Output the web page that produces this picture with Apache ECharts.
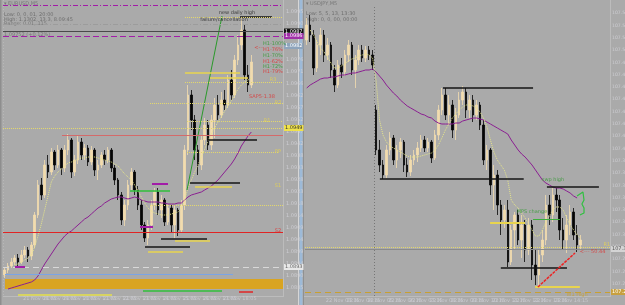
<!DOCTYPE html>
<html><head><meta charset="utf-8">
<script src="https://cdn.jsdelivr.net/npm/echarts@6/dist/echarts.min.js"></script>
<style>html,body{margin:0;padding:0;background:#aaaaaa}#c{width:625px;height:305px}</style>
</head><body><div id="c"></div>
<script>
// ---------- DATA ----------
// EURUSD M5 candles [open, close, low, high]
const leftOHLC = [
[1.08900,1.08920,1.08888,1.08928],[1.08920,1.08936,1.08908,1.08948],[1.08936,1.08952,1.08928,1.08968],
[1.08952,1.08968,1.08940,1.08980],[1.08968,1.08952,1.08936,1.08984],[1.08952,1.08980,1.08944,1.09000],
[1.08980,1.09000,1.08968,1.09016],[1.09000,1.08976,1.08952,1.09012],[1.08976,1.09020,1.08960,1.09032],
[1.09020,1.09140,1.09008,1.09152],[1.09140,1.09260,1.09128,1.09280],[1.09260,1.09220,1.09200,1.09288],
[1.09220,1.09340,1.09208,1.09360],[1.09340,1.09312,1.09288,1.09380],[1.09312,1.09392,1.09300,1.09408],
[1.09392,1.09340,1.09320,1.09400],[1.09340,1.09400,1.09328,1.09420],[1.09400,1.09328,1.09300,1.09408],
[1.09328,1.09400,1.09312,1.09420],[1.09400,1.09440,1.09380,1.09464],[1.09440,1.09312,1.09288,1.09448],
[1.09312,1.09360,1.09296,1.09380],[1.09360,1.09432,1.09344,1.09456],[1.09432,1.09380,1.09360,1.09448],
[1.09380,1.09408,1.09360,1.09424],[1.09408,1.09352,1.09336,1.09420],[1.09352,1.09400,1.09340,1.09416],
[1.09400,1.09320,1.09296,1.09408],[1.09320,1.09340,1.09280,1.09360],[1.09340,1.09380,1.09328,1.09392],
[1.09380,1.09360,1.09340,1.09400],[1.09360,1.09400,1.09348,1.09412],[1.09400,1.09328,1.09312,1.09408],
[1.09328,1.09280,1.09260,1.09340],[1.09280,1.09220,1.09200,1.09288],[1.09220,1.09120,1.09100,1.09232],
[1.09120,1.09180,1.09096,1.09200],[1.09180,1.09260,1.09160,1.09280],[1.09260,1.09312,1.09240,1.09328],
[1.09312,1.09240,1.09220,1.09320],[1.09240,1.09180,1.09160,1.09256],[1.09180,1.09100,1.09080,1.09200],
[1.09100,1.09048,1.09032,1.09112],[1.09048,1.09100,1.09020,1.09120],[1.09100,1.09180,1.09080,1.09200],
[1.09180,1.09232,1.09160,1.09248],[1.09232,1.09160,1.09140,1.09248],[1.09160,1.09200,1.09128,1.09220],
[1.09200,1.09112,1.09096,1.09208],[1.09112,1.09168,1.09100,1.09184],[1.09168,1.09100,1.09072,1.09180],
[1.09100,1.09160,1.09048,1.09180],[1.09160,1.09080,1.09056,1.09168],[1.09080,1.09180,1.09068,1.09200],
[1.09180,1.09400,1.09160,1.09420],[1.09400,1.09620,1.09380,1.09660],[1.09620,1.09520,1.09480,1.09640],
[1.09520,1.09400,1.09360,1.09540],[1.09400,1.09340,1.09300,1.09420],[1.09340,1.09440,1.09320,1.09460],
[1.09440,1.09500,1.09420,1.09528],[1.09500,1.09420,1.09400,1.09520],[1.09420,1.09520,1.09400,1.09540],
[1.09520,1.09580,1.09448,1.09608],[1.09580,1.09540,1.09520,1.09620],[1.09540,1.09600,1.09528,1.09632],
[1.09600,1.09580,1.09560,1.09640],[1.09580,1.09680,1.09568,1.09700],[1.09680,1.09620,1.09600,1.09720],
[1.09620,1.09760,1.09608,1.09780],[1.09760,1.09820,1.09740,1.09860],[1.09820,1.09880,1.09800,1.09928],
[1.09880,1.09700,1.09680,1.09900],[1.09700,1.09660,1.09632,1.09740],[1.09660,1.09752,1.09648,1.09780]
];
const leftMA = [null,1.08844,1.08848,1.08852,1.08856,1.08860,1.08864,1.08868,1.08872,1.08880,
1.08896,1.08920,1.08944,1.08964,1.08984,1.09004,1.09024,1.09040,1.09056,1.09068,
1.09076,1.09088,1.09100,1.09112,1.09124,1.09132,1.09144,1.09156,1.09168,1.09176,
1.09188,1.09196,1.09204,1.09208,1.09212,1.09212,1.09208,1.09204,1.09208,1.09212,
1.09208,1.09200,1.09196,1.09192,1.09192,1.09192,1.09192,1.09188,1.09188,1.09184,
1.09184,1.09184,1.09188,1.09188,1.09200,1.09212,1.09220,1.09224,1.09228,1.09232,
1.09240,1.09248,1.09256,1.09268,1.09280,1.09296,1.09312,1.09328,1.09344,1.09364,
1.09388,1.09416,1.09436,1.09456,1.09472];
const leftFast = [null,null,null,1.08940,1.08944,1.08952,1.08960,1.08968,1.08980,1.09012,
1.09056,1.09104,1.09160,1.09216,1.09272,1.09296,1.09312,1.09324,1.09336,1.09348,
1.09352,1.09356,1.09364,1.09368,1.09368,1.09372,1.09372,1.09372,1.09368,1.09364,
1.09360,1.09356,1.09352,1.09344,1.09336,1.09320,1.09304,1.09292,1.09280,1.09260,
1.09236,1.09212,1.09188,1.09168,1.09156,1.09148,1.09144,1.09140,1.09140,1.09140,
1.09144,1.09148,1.09152,1.09164,1.09200,1.09248,1.09280,1.09312,1.09340,1.09372,
1.09404,1.09436,1.09464,1.09488,1.09512,1.09532,1.09556,1.09576,1.09596,1.09620,
1.09644,1.09660,1.09672,1.09680,1.09688];

// USDJPY M5 candles [open, close, low, high]
const rightOHLC = [
[107.512,107.527,107.507,107.534],[107.527,107.517,107.510,107.537],[107.517,107.484,107.477,107.522],
[107.484,107.507,107.480,107.512],[107.507,107.517,107.497,107.524],[107.517,107.497,107.490,107.522],
[107.497,107.507,107.492,107.514],[107.507,107.482,107.474,107.510],[107.482,107.467,107.460,107.487],
[107.467,107.487,107.464,107.492],[107.487,107.480,107.474,107.494],[107.480,107.497,107.476,107.502],
[107.497,107.507,107.490,107.512],[107.507,107.482,107.477,107.510],[107.482,107.492,107.464,107.497],
[107.492,107.502,107.487,107.507],[107.502,107.494,107.490,107.507],[107.494,107.502,107.490,107.506],
[107.502,107.497,107.492,107.506],[107.497,107.487,107.482,107.502],[107.442,107.402,107.397,107.447],
[107.402,107.387,107.380,107.412],[107.387,107.377,107.373,107.392],[107.377,107.402,107.374,107.407],
[107.402,107.414,107.397,107.420],[107.414,107.392,107.387,107.417],[107.392,107.402,107.384,107.407],
[107.402,107.410,107.394,107.414],[107.410,107.387,107.380,107.412],[107.387,107.380,107.375,107.394],
[107.380,107.392,107.376,107.397],[107.392,107.397,107.387,107.402],[107.397,107.404,107.390,107.410],
[107.404,107.412,107.400,107.417],[107.412,107.404,107.400,107.416],[107.404,107.410,107.400,107.414],
[107.410,107.394,107.389,107.412],[107.394,107.417,107.392,107.422],[107.417,107.442,107.412,107.447],
[107.442,107.457,107.437,107.464],[107.457,107.437,107.432,107.464],[107.437,107.447,107.427,107.457],
[107.447,107.422,107.414,107.452],[107.422,107.437,107.412,107.444],[107.437,107.452,107.434,107.460],
[107.452,107.460,107.447,107.466],[107.460,107.442,107.434,107.464],[107.442,107.452,107.434,107.457],
[107.452,107.437,107.430,107.457],[107.437,107.447,107.432,107.452],[107.447,107.427,107.422,107.450],
[107.427,107.392,107.387,107.432],[107.392,107.402,107.382,107.407],[107.402,107.367,107.357,107.404],
[107.367,107.377,107.342,107.387],[107.377,107.347,107.337,107.382],[107.347,107.332,107.317,107.352],
[107.332,107.342,107.324,107.347],[107.342,107.290,107.285,107.352],[107.290,107.322,107.287,107.327],
[107.322,107.337,107.302,107.340],[107.337,107.312,107.307,107.342],[107.312,107.327,107.294,107.337],
[107.327,107.302,107.290,107.332],[107.302,107.327,107.297,107.334],[107.327,107.287,107.272,107.332],
[107.287,107.277,107.267,107.302],[107.277,107.297,107.265,107.302],[107.297,107.312,107.290,107.322],
[107.312,107.347,107.307,107.357],[107.347,107.337,107.327,107.357],[107.337,107.357,107.330,107.364],
[107.357,107.352,107.340,107.364],[107.352,107.322,107.312,107.357],[107.322,107.312,107.302,107.334],
[107.312,107.327,107.299,107.337],[107.327,107.340,107.317,107.347],[107.340,107.317,107.312,107.344],
[107.317,107.307,107.300,107.327],[107.307,107.312,107.302,107.317]
];
const rightMA = [107.464,107.467,107.469,107.471,107.473,107.474,107.474,107.475,107.475,107.476,
107.477,107.477,107.478,107.479,107.479,107.480,107.481,107.482,107.482,107.483,
107.480,107.476,107.472,107.467,107.463,107.459,107.456,107.452,107.449,107.446,
107.444,107.442,107.440,107.438,107.437,107.435,107.434,107.431,107.429,107.428,
107.428,107.428,107.428,107.429,107.429,107.431,107.432,107.433,107.434,107.434,
107.433,107.432,107.430,107.428,107.426,107.424,107.422,107.420,107.418,107.412,
107.407,107.402,107.398,107.395,107.391,107.387,107.382,107.377,107.372,107.369,
107.367,107.365,107.364,107.364,107.363,107.361,107.359,107.356,107.354,null];
const rightFast = [null,107.522,107.517,107.510,107.504,107.500,107.495,107.489,107.484,107.484,
107.486,107.488,107.491,107.493,107.494,107.496,107.497,107.498,107.497,107.494,
107.472,107.432,107.417,107.410,107.406,107.404,107.402,107.400,107.398,107.396,
107.395,107.395,107.395,107.396,107.397,107.398,107.399,107.402,107.407,107.414,
107.422,107.428,107.434,107.438,107.442,107.445,107.447,107.447,107.446,107.444,
107.440,107.434,107.425,107.412,107.400,107.392,107.387,107.382,107.372,107.352,
107.347,107.344,107.339,107.334,107.328,107.322,107.316,107.316,107.322,107.330,
107.336,107.342,107.345,107.345,107.342,107.334,107.327,107.322,107.317,107.314];

// x tick labels (one every 6 bars)
const leftTimeLabels = ['21 Nov 2023','21 Nov 08:05','21 Nov 09:05','21 Nov 10:05','21 Nov 11:05','21 Nov 12:05',
  '21 Nov 13:05','21 Nov 14:05','21 Nov 15:05','21 Nov 16:05','21 Nov 17:05','21 Nov 18:05'];
const rightTimeLabels = ['22 Nov 2023','22 Nov 03:15','22 Nov 04:15','22 Nov 05:15','22 Nov 06:15','22 Nov 07:15',
  '22 Nov 08:15','22 Nov 09:15','22 Nov 10:15','22 Nov 11:15','22 Nov 12:15','22 Nov 13:15','22 Nov 14:15'];

// horizontal price levels (full width)
const leftLevels = [1.09978, 1.09904, 1.09874, 1.09856, 1.09816, 1.09488, 1.09072, 1.08932];
// partial segments [fromBar, toBar, price]
const leftSegs = [
 [70.6,80.2,1.09932],[54.1,83.5,1.09932],[54.1,70.6,1.09708],[54.1,83.5,1.09672],[61.6,73.0,1.09688],
 [17.2,83.5,1.09460],[43.6,83.5,1.09588],[54.7,83.5,1.09516],[60.7,75.7,1.09440],[54.7,82.0,1.09392],
 [55.6,70.6,1.09268],[57.1,68.2,1.09252],[44.2,49.0,1.09264],[37.6,49.6,1.09236],[43.6,83.5,1.09180],
 [46.9,60.7,1.09044],[51.1,61.6,1.09036],[42.1,55.6,1.09012],[43.0,53.5,1.08992],[40.6,44.5,1.09092],
 [3.1,6.1,1.08932],[0.1,68.5,1.08904],[41.5,65.2,1.08836],[70.3,74.5,1.08832],[4.0,32.2,1.08820]
];
const leftTrend = [[54.7,1.09240],[65.2,1.09936]];
const leftZone = [[0.1,1.08884],[83.5,1.08844]];
const leftNotes = [
 [69.7,1.09948,'new daily high'],[65.8,1.09920,'failure/cancellation'],
 [77.5,1.09824,'H1-100%'],[77.5,1.09802,'H1-76%'],[77.5,1.09776,'H1-70%'],
 [77.5,1.09754,'H1-62%'],[77.5,1.09732,'H1-72%'],[77.5,1.09712,'H1-79%'],
 [76.3,1.09808,'<---'],[77.2,1.09612,'SAP5-1.38'],
 [80.5,1.09680,'R3'],[82.0,1.09588,'R2'],[78.7,1.09516,'R1'],[82.0,1.09392,'PP'],[82.0,1.09256,'S1'],[82.0,1.09076,'S2']
];

const rightLevels = [107.3045, 107.303, 107.260];
const rightSegs = [
 [39.3,65.3,107.464],[21.1,62.6,107.373],[69.3,84.3,107.365],[65.3,73.1,107.333],
 [52.9,63.0,107.329],[56.0,75.1,107.284],[65.9,78.8,107.265]
];
const rightTrend = [[66.7,107.265],[77.4,107.299]];
const rightSession = 19.5;
const rightBracket = [[77.98,107.356],[79.7,107.360],[80.0,107.352],[79.4,107.348],[80.0,107.344],[80.0,107.339],[78.8,107.337]];
const rightNotes = [
 [71.05,107.372,'swp high'],[65.0,107.340,'MPS change'],[78.8,107.300,'<--- 50.44'],
 [78.0,107.2575,'W1 High'],[86.6,107.307,'R1']
];

// ---------- STYLE / OPTIONS ----------
const FF = 'DejaVu Sans';
const Y='#e8d44e', YD='#e4d86c', BK='#141414', MG='#a21ca8', GR='#2fbf3a', RD='#e02424', LB='#7aa4e6';
const leftSegStyle = [
 [BK,1.5,'solid'],[YD,1,'dotted'],[Y,1.5,'solid'],[YD,1,'dotted'],[Y,1.5,'solid'],
 ['#d46a6a',1,'solid'],[YD,1,'dotted'],[YD,1,'dotted'],[BK,1.5,'solid'],[YD,1,'dotted'],
 [BK,1.5,'solid'],[Y,1.5,'solid'],[MG,2,'solid'],[GR,1.5,'solid'],[YD,1,'dotted'],
 ['#3c3c3c',2,'solid'],[Y,1.5,'solid'],[BK,1.5,'solid'],[Y,1.5,'solid'],[MG,2,'solid'],
 [MG,2,'solid'],[LB,1,'solid'],[GR,1.5,'solid'],[RD,1.5,'solid'],['#e6e04a',1.5,'solid']
];
const leftLevelStyle = [
 [MG,1,[5,2,1,2],null],['#9c9c9c',1,[5,2,1,2],null],['#4a4a4a',1,'solid',['#111','#fff']],
 [MG,1,[6,3],['#a030a8','#fff']],['rgba(0,0,0,0)',1,'solid',['#8ea4bc','#fff']],
 [YD,1,'dotted',['#f0e24a','#333']],[RD,1.2,'solid',null],['#d8d8d8',1,[6,4],['#e8e8e8','#666']]
];
const leftNoteColor = ['#1a1a1a','#1a1a1a','#2e9a2e','#e03030','#2e9a2e','#e03030','#2e9a2e','#e03030',
 '#e03030','#e03030',Y,Y,Y,Y,Y,'#e03030'];
const leftNoteCenter = [1,1,0,0,0,0,0,0,1,1,1,1,1,1,1,1];
const rightSegStyle = [[BK,1.5,'solid'],[BK,1.5,'solid'],[BK,1.5,'solid'],['#3cb03c',1,'solid'],
 [Y,2,'solid'],[BK,1.5,'solid'],[Y,2,'solid']];
const rightLevelStyle = [[YD,1,'dotted',null],['#8a8a8a',1,'solid',['#d4d4d4','#555']],['#c9a030',1.2,[6,4],['#c8a040','#fff']]];
const rightNoteColor = ['#2e9a2e','#2e9a2e','#e03030','#c9a030',Y];
const rightNoteCenter = [1,1,0,1,1];

function levelItems(levels, styles, digits){
  return levels.map((p,i)=>{
    const s = styles[i];
    const it = {yAxis:p, lineStyle:{color:s[0], width:s[1], type:s[2]}};
    if (s[3]) it.label = {show:true, position:'end', distance:1, formatter:p.toFixed(digits),
      backgroundColor:s[3][0], color:s[3][1], fontSize:5, fontFamily:FF, padding:[1,1,0,1]};
    else it.label = {show:false};
    return it;
  });
}
function segItems(segs, styles){
  return segs.map((s,i)=>[{coord:[s[0],s[2]], lineStyle:{color:styles[i][0], width:styles[i][1], type:styles[i][2]}},{coord:[s[1],s[2]]}]);
}
function noteItems(notes, colors, centers){
  return notes.map((n,i)=>({name:n[2], value:[n[0],n[1]],
    label:{color:colors[i], position: centers[i]?'inside':'right', distance:0}}));
}
const candleStyle = {color:'#f2dcae', color0:'#050505', borderColor:'#f2dcae', borderColor0:'#050505', borderWidth:0.8};
const toXY = arr => arr.map((v,i)=>[i,v]).filter(d=>d[1]!=null);

const option = {
  animation:false,
  backgroundColor:'#aaaaaa',
  grid:[
    {left:3, top:5, width:280, height:295, outerBoundsMode:'none'},
    {left:305, top:5, width:305, height:291, outerBoundsMode:'none'}
  ],
  xAxis:[
    {gridIndex:0, type:'value', min:-0.5, max:83.5, interval:6, axisLine:{show:false}, axisTick:{show:false}, splitLine:{show:false},
     axisLabel:{fontSize:5, fontFamily:FF, color:'#c8c8ce', align:'left', verticalAlign:'middle', margin:-1, showMaxLabel:false,
       formatter:v=>leftTimeLabels[Math.round((v+0.5)/6)]||''}},
    {gridIndex:1, type:'value', min:-0.5, max:87.5, interval:6, axisLine:{show:false}, axisTick:{show:false}, splitLine:{show:false},
     axisLabel:{fontSize:5, fontFamily:FF, color:'#c8c8ce', align:'left', verticalAlign:'middle', margin:5, showMaxLabel:false,
       formatter:v=>rightTimeLabels[Math.round((v+0.5)/6)]||''}}
  ],
  yAxis:[
    {gridIndex:0, type:'value', position:'right', min:1.0880, max:1.0998, interval:0.00048, axisLine:{show:false}, axisTick:{show:false}, splitLine:{show:false},
     axisLabel:{fontSize:5, fontFamily:FF, color:'#cdcdd2', margin:3, showMinLabel:false, showMaxLabel:false, formatter:v=>v.toFixed(4)}},
    {gridIndex:1, type:'value', position:'right', min:107.256, max:107.547, interval:0.0123, axisLine:{show:false}, axisTick:{show:false}, splitLine:{show:false},
     axisLabel:{fontSize:4.6, fontFamily:FF, color:'#cdcdd2', margin:2, showMinLabel:false, showMaxLabel:false, formatter:v=>v.toFixed(3)}}
  ],
  series:[
    {type:'candlestick', xAxisIndex:0, yAxisIndex:0, z:2, barWidth:2, encode:{x:0,y:[1,2,3,4]},
     data:leftOHLC.map((d,i)=>[i].concat(d)), itemStyle:candleStyle},
    {type:'line', xAxisIndex:0, yAxisIndex:0, z:3, data:toXY(leftMA), symbol:'none', lineStyle:{color:'#8b1f92', width:1}},
    {type:'line', xAxisIndex:0, yAxisIndex:0, z:3, data:toXY(leftFast), symbol:'none', lineStyle:{color:'#e6e68a', width:1, type:'dotted'}},
    {type:'line', xAxisIndex:0, yAxisIndex:0, z:3, data:leftTrend, symbol:'none', lineStyle:{color:'#2a9a2a', width:1}},
    {type:'scatter', xAxisIndex:0, yAxisIndex:0, z:5, symbolSize:0, data:noteItems(leftNotes,leftNoteColor,leftNoteCenter),
     label:{show:true, formatter:'{b}', fontSize:5, fontFamily:FF},
     markArea:{silent:true, z:1, itemStyle:{color:'#d9a421'}, data:[[{coord:leftZone[0]},{coord:leftZone[1]}]]},
     markLine:{silent:true, precision:6, symbol:['none','none'], z:4, label:{show:false},
       data: levelItems(leftLevels,leftLevelStyle,4).concat(segItems(leftSegs,leftSegStyle))}},

    {type:'candlestick', xAxisIndex:1, yAxisIndex:1, z:2, barWidth:2, encode:{x:0,y:[1,2,3,4]},
     data:rightOHLC.map((d,i)=>[i].concat(d)), itemStyle:candleStyle},
    {type:'line', xAxisIndex:1, yAxisIndex:1, z:3, data:toXY(rightMA), symbol:'none', lineStyle:{color:'#8b1f92', width:1}},
    {type:'line', xAxisIndex:1, yAxisIndex:1, z:3, data:toXY(rightFast), symbol:'none', lineStyle:{color:'#e6e68a', width:1, type:'dotted'}},
    {type:'line', xAxisIndex:1, yAxisIndex:1, z:4, data:rightTrend, symbol:'none', lineStyle:{color:'#ee2222', width:1.5, type:[3,1]}},
    {type:'line', xAxisIndex:1, yAxisIndex:1, z:4, data:rightBracket, symbol:'none', lineStyle:{color:'#30c040', width:1.2}},
    {type:'scatter', xAxisIndex:1, yAxisIndex:1, z:5, symbolSize:0, data:noteItems(rightNotes,rightNoteColor,rightNoteCenter),
     label:{show:true, formatter:'{b}', fontSize:5, fontFamily:FF},
     markLine:{silent:true, precision:6, symbol:['none','none'], z:4, label:{show:false},
       data: levelItems(rightLevels,rightLevelStyle,3).concat(segItems(rightSegs,rightSegStyle))
             .concat([{xAxis:rightSession, lineStyle:{color:'#767676', width:1, type:[1,2]}, label:{show:false}}])}}
  ],
  graphic:[
    {type:'rect', shape:{x:0,y:0,width:1.5,height:305}, style:{fill:'#8e8e8e'}, silent:true},
    {type:'line', shape:{x1:3.5,y1:0,x2:3.5,y2:297}, style:{stroke:'#b8b8b8', lineWidth:1, lineDash:[1,2]}, silent:true},
    {type:'line', shape:{x1:283.5,y1:0,x2:283.5,y2:297}, style:{stroke:'#bcbcbc', lineWidth:1}, silent:true},
    {type:'line', shape:{x1:3,y1:296.5,x2:284,y2:296.5}, style:{stroke:'#bcbcbc', lineWidth:1}, silent:true},
    {type:'line', shape:{x1:298.5,y1:0,x2:298.5,y2:305}, style:{stroke:'#d6d6d6', lineWidth:1}, silent:true},
    {type:'rect', shape:{x:299.5,y:0,width:3,height:305}, style:{fill:'#9dbad8'}, silent:true},
    {type:'line', shape:{x1:303.5,y1:0,x2:303.5,y2:305}, style:{stroke:'#909090', lineWidth:1}, silent:true},
    {type:'line', shape:{x1:610.5,y1:0,x2:610.5,y2:297}, style:{stroke:'#bcbcbc', lineWidth:1}, silent:true},
    {type:'line', shape:{x1:304,y1:296.5,x2:611,y2:296.5}, style:{stroke:'#bcbcbc', lineWidth:1}, silent:true},
    {type:'text', left:4, top:1, silent:true, style:{text:'▾ EURUSD,M5', fontSize:5, fontFamily:FF, fill:'#777'}},
    {type:'text', left:4, top:12, silent:true, style:{text:'Low: 0, 0, 01, 20:00', fontSize:5, fontFamily:FF, fill:'#6e6e6e'}},
    {type:'text', left:4, top:17, silent:true, style:{text:'High: 1.1302, 13.3, 8.09:45', fontSize:5, fontFamily:FF, fill:'#6e6e6e'}},
    {type:'text', left:4, top:21, silent:true, style:{text:'Range: 0.01, 115', fontSize:5, fontFamily:FF, fill:'#7a7a7a'}},
    {type:'text', left:4, top:32, silent:true, style:{text:'1.09752 (+0.12%)', fontSize:5, fontFamily:FF, fill:'#7a7a7a'}},
    {type:'text', left:306, top:1, silent:true, style:{text:'▾ USDJPY,M5', fontSize:5, fontFamily:FF, fill:'#777'}},
    {type:'text', left:306, top:11, silent:true, style:{text:'Low: 5, 5, 13, 13:30', fontSize:5, fontFamily:FF, fill:'#6e6e6e'}},
    {type:'text', left:306, top:17, silent:true, style:{text:'High: 0, 0, 00, 00:00', fontSize:5, fontFamily:FF, fill:'#6e6e6e'}}
  ]
};
const chart = echarts.init(document.getElementById('c'), null, {renderer:'canvas'});
chart.setOption(option);
</script></body></html>
